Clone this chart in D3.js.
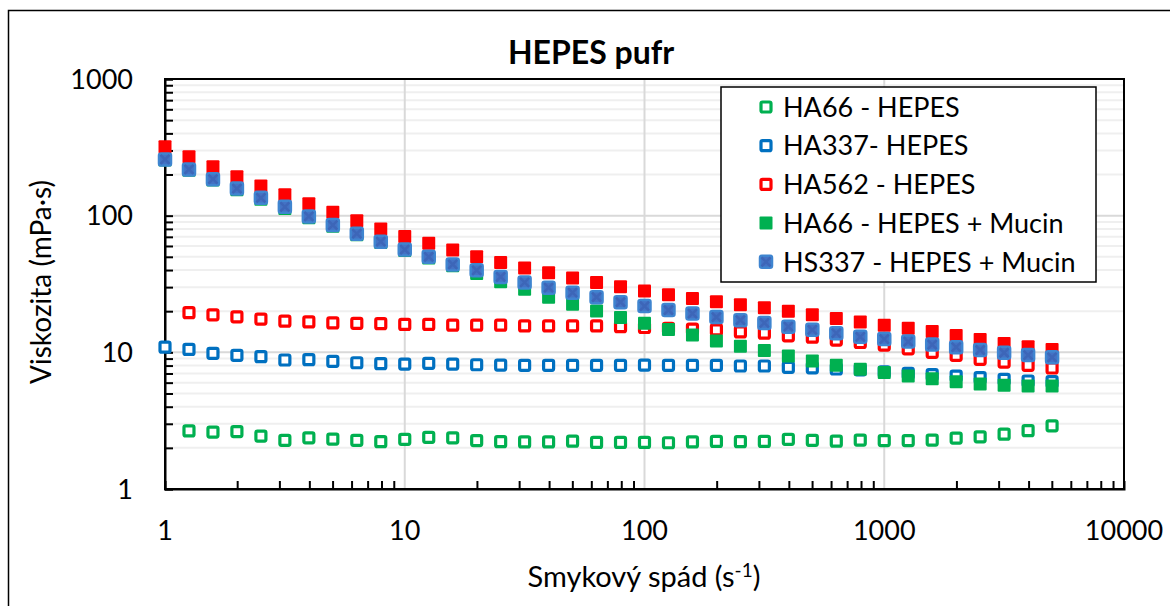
<!DOCTYPE html>
<html><head><meta charset="utf-8">
<script src="https://cdn.jsdelivr.net/npm/d3@7"></script>
<style>
html,body{margin:0;padding:0;background:#fff;}
svg text{font-family:Lato,"Open Sans",sans-serif;fill:#000;}
</style></head>
<body>
<svg id="c" width="1170" height="606"></svg>
<script>
const shearRates = d3.range(0, 38).map(k => +Math.pow(10, k / 10).toPrecision(4));
const xTickLabels = [1, 10, 100, 1000, 10000];
const yTickLabels = [1, 10, 100, 1000];

// HA66 - HEPES (starts at second shear rate)
const ha66 = [null, 2.66, 2.61, 2.63, 2.44, 2.27, 2.37, 2.32, 2.27, 2.22, 2.31, 2.39, 2.37, 2.26, 2.22, 2.21, 2.21, 2.24, 2.19, 2.19,
  2.19, 2.18, 2.21, 2.23, 2.22, 2.23, 2.31, 2.27, 2.24, 2.28, 2.26, 2.26, 2.28, 2.36, 2.41, 2.52, 2.67, 2.90];
// HA337- HEPES
const ha337 = [10.9, 10.5, 9.84, 9.51, 9.29, 8.79, 8.83, 8.59, 8.39, 8.26, 8.21, 8.31, 8.21, 8.11, 8.07, 8.04, 8.04, 8.04, 8.04, 8.04,
  8.07, 8.04, 8.04, 8.04, 7.94, 7.94, 7.77, 7.70, 7.55, 7.45, 7.21, 7.02, 6.86, 6.70, 6.52, 6.35, 6.17, 6.10];
// HA562 - HEPES (starts at second shear rate)
const ha562 = [null, 19.5, 18.8, 18.2, 17.5, 16.9, 16.7, 16.4, 16.3, 16.2, 16.0, 16.0, 15.8, 15.8, 15.8, 15.6, 15.6, 15.6, 15.6, 15.4,
  15.2, 15.0, 14.8, 14.6, 14.1, 13.8, 13.2, 12.9, 12.3, 11.8, 11.3, 10.6, 10.0, 9.51, 8.89, 8.49, 8.03, 7.68];
// HA66 - HEPES + Mucin
const ha66Mucin = [255, 215, 182, 155, 132, 113, 96.5, 83.5, 72.5, 63.5, 55.5, 49.0, 43.0, 37.8, 32.9, 28.9, 25.3, 22.5, 20.1, 18.0,
  16.3, 14.7, 13.4, 12.1, 11.1, 10.3, 9.40, 8.64, 8.03, 7.51, 7.12, 6.71, 6.41, 6.10, 5.86, 5.74, 5.67, 5.67];
// HS337 - HEPES + Mucin
const hs337Mucin = [258, 218, 185, 158, 135, 116, 98.8, 85.3, 73.8, 64.5, 56.5, 50.0, 44.0, 39.8, 35.6, 32.5, 29.7, 27.3, 25.3, 23.3,
  21.8, 20.4, 19.2, 18.1, 17.2, 16.4, 15.4, 14.6, 13.8, 13.0, 12.5, 12.0, 11.4, 10.9, 10.4, 9.93, 9.55, 9.19];
// sixth series (no legend entry)
const ha562Mucin = [319, 270, 228, 193, 165, 142, 122, 106, 91.8, 79.8, 70.5, 62.7, 56.0, 50.0, 45.5, 41.4, 38.2, 35.0, 32.5, 30.2,
  28.1, 26.4, 24.8, 23.4, 22.3, 21.2, 20.0, 18.8, 17.7, 16.7, 15.8, 15.0, 14.2, 13.3, 12.4, 11.6, 11.0, 10.5];

const legendNames = ["HA66 - HEPES", "HA337- HEPES", "HA562 - HEPES", "HA66 - HEPES + Mucin", "HS337 - HEPES + Mucin"];

const GREEN = "#00b050", BLUE = "#0070c0", RED = "#ff0000";
const series = [
  {vals: ha66, type: "hollow", color: GREEN, legend: 0},
  {vals: ha337, type: "hollow", color: BLUE, legend: 1},
  {vals: ha562, type: "hollow", color: RED, legend: 2},
  {vals: ha562Mucin, type: "filled", color: RED, legend: -1},
  {vals: ha66Mucin, type: "filled", color: GREEN, legend: 3},
  {vals: hs337Mucin, type: "cross", color: "#4472c4", legend: 4}
];

const svg = d3.select("#c");
const L = 165, R = 1124, T = 79, B = 489;
const x = d3.scaleLog().domain([1, 10000]).range([L, R]);
const y = d3.scaleLog().domain([1, 1000]).range([B, T]);

// outer frame
svg.append("rect").attr("x", 8.5).attr("y", 10.5).attr("width", 1200).attr("height", 700)
  .attr("fill", "#fff").attr("stroke", "#000").attr("stroke-width", 1.5);

// minor values
const minorY = [];
for (let d = 1; d < 1000; d *= 10) for (let m = 1; m <= 9; m++) minorY.push(d * m);
const minorX = [];
for (let d = 1; d < 10000; d *= 10) for (let m = 2; m <= 9; m++) minorX.push(d * m);

const grid = svg.append("g");
grid.selectAll("line.hm").data(minorY.filter(v => !yTickLabels.includes(v))).enter().append("line")
  .attr("x1", L).attr("x2", R).attr("y1", d => y(d)).attr("y2", d => y(d))
  .attr("stroke", "#efefef").attr("stroke-width", 2);
grid.selectAll("line.hM").data(yTickLabels.slice(1, -1)).enter().append("line")
  .attr("x1", L).attr("x2", R).attr("y1", d => y(d)).attr("y2", d => y(d))
  .attr("stroke", "#d9d9d9").attr("stroke-width", 2);
grid.selectAll("line.v").data(xTickLabels.slice(1, -1)).enter().append("line")
  .attr("y1", T).attr("y2", B).attr("x1", d => x(d)).attr("x2", d => x(d))
  .attr("stroke", "#d9d9d9").attr("stroke-width", 2);

// plot border
svg.append("rect").attr("x", L).attr("y", T).attr("width", R - L).attr("height", B - T)
  .attr("fill", "none").attr("stroke", "#000").attr("stroke-width", 2);

// axes with inside ticks
const yAxis = d3.axisRight(y).tickValues(minorY.concat([1000])).tickSize(8).tickFormat("");
svg.append("g").attr("transform", `translate(${L},0)`).call(yAxis)
  .call(g => { g.select(".domain").attr("stroke", "#000").attr("stroke-width", 2); g.selectAll(".tick line").attr("stroke", "#000").attr("stroke-width", 2); });
const xAxis = d3.axisTop(x).tickValues(minorX).tickSize(8).tickFormat("");
svg.append("g").attr("transform", `translate(0,${B})`).call(xAxis)
  .call(g => { g.select(".domain").attr("stroke", "#000").attr("stroke-width", 2); g.selectAll(".tick line").attr("stroke", "#000").attr("stroke-width", 2); });

// tick labels
svg.selectAll("text.yl").data(yTickLabels).enter().append("text")
  .attr("x", 133).attr("y", d => y(d)).attr("dy", "0.36em").attr("text-anchor", "end")
  .attr("font-size", 27).text(d => d);
svg.selectAll("text.xl").data(xTickLabels).enter().append("text")
  .attr("x", d => x(d)).attr("y", 540).attr("text-anchor", "middle")
  .attr("font-size", 27).text(d => d);

// title & axis titles
svg.append("text").attr("x", 591).attr("y", 64).attr("text-anchor", "middle")
  .attr("font-size", 32).attr("font-weight", "bold").text("HEPES pufr");
const xt = svg.append("text").attr("x", 644).attr("y", 587).attr("text-anchor", "middle").attr("font-size", 29);
xt.append("tspan").text("Smykový spád (s");
xt.append("tspan").attr("dy", -10).attr("font-size", 19).text("-1");
xt.append("tspan").attr("dy", 10).text(")");
svg.append("text").attr("transform", "translate(51,282) rotate(-90)").attr("text-anchor", "middle")
  .attr("font-size", 28).text("Viskozita (mPa·s)");

// marker drawing
function drawMarker(g, type, color) {
  if (type === "hollow") {
    g.append("rect").attr("x", -5).attr("y", -5).attr("width", 10).attr("height", 10).attr("rx", 1.5)
      .attr("fill", "#fff").attr("stroke", color).attr("stroke-width", 3.2);
  } else if (type === "filled") {
    g.append("rect").attr("x", -6.5).attr("y", -6.5).attr("width", 13).attr("height", 13).attr("rx", 1)
      .attr("fill", color);
  } else {
    g.append("rect").attr("x", -6).attr("y", -6).attr("width", 12).attr("height", 12).attr("rx", 2)
      .attr("fill", "#4472c4").attr("stroke", "#3f85d0").attr("stroke-width", 2.5);
    g.append("path").attr("d", "M-4.5,-4.5L4.5,4.5M-4.5,4.5L4.5,-4.5").attr("stroke", "#3d66b8").attr("stroke-width", 2.5);
  }
}

const plot = svg.append("g");
series.forEach(s => {
  const pts = shearRates.map((r, i) => ({r, v: s.vals[i]})).filter(p => p.v != null);
  plot.selectAll(null).data(pts).enter().append("g")
    .attr("transform", p => `translate(${x(p.r)},${y(p.v)})`)
    .each(function() { drawMarker(d3.select(this), s.type, s.color); });
});

// legend
const lg = svg.append("g");
lg.append("rect").attr("x", 721).attr("y", 87).attr("width", 375).attr("height", 195)
  .attr("fill", "#fff").attr("stroke", "#000").attr("stroke-width", 1.5);
const legendRows = series.filter(s => s.legend >= 0).sort((a, b) => a.legend - b.legend);
legendRows.forEach((s, i) => {
  const cy = 107 + i * 38.7;
  const g = lg.append("g").attr("transform", `translate(766,${cy})`);
  drawMarker(g, s.type, s.color);
  lg.append("text").attr("x", 783).attr("y", cy).attr("dy", "0.36em").attr("font-size", 27)
    .text(legendNames[s.legend]);
});
</script>
</body></html>
